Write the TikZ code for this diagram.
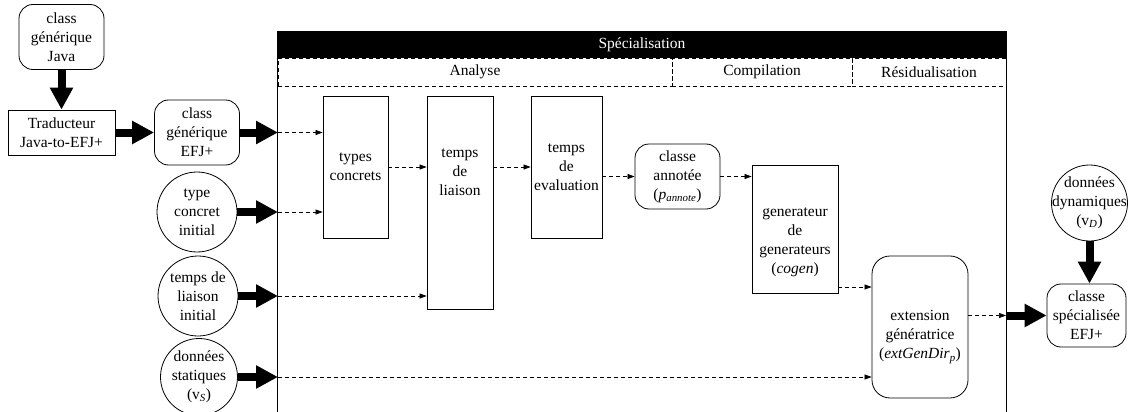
\documentclass[tikz,border=0pt]{standalone}
\usepackage{fontspec}
\setmainfont{Liberation Serif}
\usetikzlibrary{arrows.meta}

\begin{document}
\begin{tikzpicture}[x=1pt,y=-1pt,font=\fontsize{15.5}{19}\selectfont,
    boite/.style={draw,align=center,inner sep=0pt,line width=0.8pt},
    arrondi/.style={boite,rounded corners=14pt},
    rond/.style={draw,circle,inner sep=0pt,line width=0.8pt},
    gros/.style={line width=8pt,-{Triangle[length=22pt,width=22pt]}},
    tiret/.style={dash pattern=on 4pt off 3pt,line width=0.6pt,-{Triangle[length=7pt,width=5pt]}},
    case/.style={draw,dash pattern=on 4pt off 3pt,inner sep=0pt,minimum height=28pt,line width=0.6pt}]
    \useasboundingbox (0,0) rectangle (1128,412);

    \node[fill=black,text=white,minimum width=728pt,minimum height=27pt,inner sep=0pt] (spec) at (642,44.5) {Spécialisation};
    \node[case,minimum width=394pt] (analyse) at (475,72) {Analyse};
    \node[case,minimum width=180pt] (compil) at (762,72) {Compilation};
    \node[case,minimum width=154pt] (resid) at (929,72) {Résidualisation};
    \draw[line width=0.8pt] (spec.north west) -- (spec.north west |- 0,412);
    \draw[line width=0.8pt] (spec.north east) -- (spec.north east |- 0,412);

    \node[arrondi,minimum width=85pt,minimum height=65pt] (java) at (61.5,37) {class\\générique\\Java};
    \node[boite,minimum width=107pt,minimum height=45pt] (trad) at (61.5,132.5) {Traducteur\\Java-to-EFJ+};
    \node[arrondi,minimum width=85pt,minimum height=65pt] (efj) at (197,132.5) {class\\générique\\EFJ+};
    \node[rond,minimum size=80pt,label={[align=center]center:type\\concret\\initial}] (tci) at (197,212) {};
    \node[rond,minimum size=80pt,label={[align=center]center:temps de\\liaison\\initial}] (tli) at (198,296) {};
    \node[rond,minimum size=77pt,label={[align=center]center:données\\statiques\\(v\textsubscript{\textit{S}})}] (vs) at (199,377) {};

    \node[boite,minimum width=65pt,minimum height=142pt] (types) at (355.5,167) {types\\concrets};
    \node[boite,minimum width=66pt,minimum height=213pt,label={[align=center,yshift=30pt]center:temps\\de\\liaison}] (liaison) at (460,202.5) {};
    \node[boite,minimum width=71pt,minimum height=142pt] (eval) at (566.5,167) {temps\\de\\evaluation};
    \node[arrondi,minimum width=85pt,minimum height=65pt] (annot) at (677.5,176.5) {classe\\annotée\\(\textit{p}\textsubscript{\textit{annote}})};
    \node[boite,minimum width=86pt,minimum height=128pt,label={[align=center,yshift=-13pt]center:generateur\\de\\generateurs\\(\textit{cogen})}] (cogen) at (795,229) {};
    \node[arrondi,rounded corners=18pt,minimum width=96pt,minimum height=142pt,label={[align=center,yshift=-10pt]center:extension\\génératrice\\(\textit{extGenDir}\textsubscript{\textit{p}})}] (ext) at (920,327) {};
    \node[arrondi,minimum width=79pt,minimum height=63pt] (spe) at (1086.5,315.5) {classe\\spécialisée\\EFJ+};
    \node[rond,minimum size=76pt,label={[align=center]center:données\\dynamiques\\(v\textsubscript{\textit{D}})}] (vd) at (1089.5,203) {};

    \coordinate (e1) at (278,132.5);
    \coordinate (e2) at (278,212);
    \coordinate (e3) at (278,296);
    \coordinate (e4) at (278,377);
    \coordinate (g1) at (0,287);
    \coordinate (s1) at (1006,315.5);

    \draw[gros] (java) -- (trad);
    \draw[gros] (trad) -- (efj);
    \draw[gros] (efj) -- (e1);
    \draw[gros] (tci) -- (e2);
    \draw[gros] (tli) -- (e3);
    \draw[gros] (vs) -- (e4);
    \draw[gros] (s1) -- (spe);
    \draw[gros] (vd.south) -- (vd.south |- spe.north);

    \draw[tiret] (e1) -- (e1 -| types.west);
    \draw[tiret] (e2) -- (e2 -| types.west);
    \draw[tiret] (e3) -- (e3 -| liaison.west);
    \draw[tiret] (e4) -- (e4 -| ext.west);
    \draw[tiret] (types.east) -- (types.east -| liaison.west);
    \draw[tiret] (liaison.east |- eval.west) -- (eval.west);
    \draw[tiret] (eval.east |- annot.west) -- (annot.west);
    \draw[tiret] (annot.east) -- (annot.east -| cogen.west);
    \draw[tiret] (cogen.east |- g1) -- (ext.west |- g1);
    \draw[tiret] (ext.east |- s1) -- (s1);
\end{tikzpicture}
\end{document}
